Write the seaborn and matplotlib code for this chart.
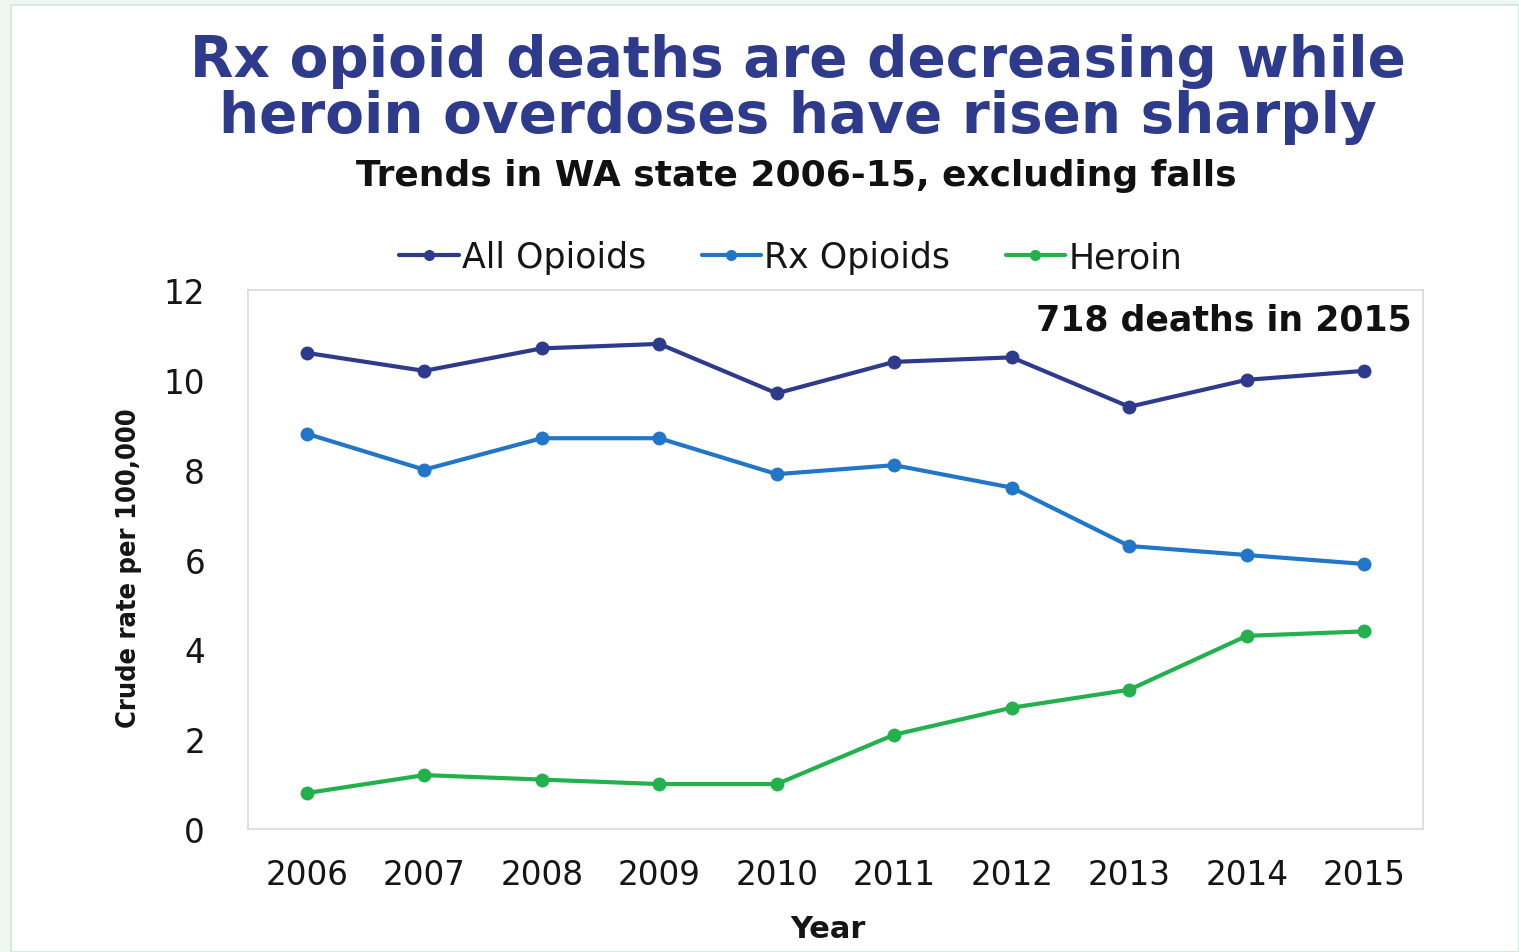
import matplotlib
matplotlib.use("Agg")
import matplotlib.pyplot as plt
import seaborn as sns
import pandas as pd
from matplotlib.patches import Rectangle

years = [2006, 2007, 2008, 2009, 2010, 2011, 2012, 2013, 2014, 2015]
all_opioids = [10.6, 10.2, 10.7, 10.8, 9.7, 10.4, 10.5, 9.4, 10.0, 10.2]
rx_opioids = [8.8, 8.0, 8.7, 8.7, 7.9, 8.1, 7.6, 6.3, 6.1, 5.9]
heroin = [0.8, 1.2, 1.1, 1.0, 1.0, 2.1, 2.7, 3.1, 4.3, 4.4]
series_names = ["All Opioids", "Rx Opioids", "Heroin"]
colors = ["#2E3A8C", "#2176C7", "#22B14C"]
y_ticks = [0, 2, 4, 6, 8, 10, 12]

df = pd.DataFrame({
    "Year": years * 3,
    "Rate": all_opioids + rx_opioids + heroin,
    "Series": [series_names[0]] * 10 + [series_names[1]] * 10 + [series_names[2]] * 10,
})

sns.set_theme(style="white")
plt.rcParams["font.family"] = ["DejaVu Sans"]

fig = plt.figure(figsize=(15.19, 9.53), dpi=100)
fig.patch.set_facecolor("#eef7f2")
fig.patches.append(Rectangle((11 / 1519, 0), 1 - 11 / 1519, 1 - 6 / 953,
                             transform=fig.transFigure, facecolor="white",
                             edgecolor="#d3ece0", linewidth=1.5, zorder=-10))

ax = fig.add_axes([248 / 1519, 1 - 830 / 953, 1175 / 1519, 539 / 953])
ax.set_facecolor("white")

sns.lineplot(data=df, x="Year", y="Rate", hue="Series", palette=colors,
             hue_order=series_names, marker="o", markersize=10,
             markeredgewidth=0, linewidth=3, ax=ax, legend=True)

ax.set_xlim(2005.5, 2015.5)
ax.set_ylim(0, 12)
ax.set_xticks(years)
ax.set_xticklabels([str(y) for y in years], fontsize=23.5, color="#151515")
ax.set_yticks(y_ticks)
ax.set_yticklabels([str(t) for t in y_ticks], fontsize=23.5, color="#151515")
ax.tick_params(axis="x", pad=21, length=0)
ax.tick_params(axis="y", pad=31, length=0)
for s in ax.spines.values():
    s.set_color("#d9d9d9")
    s.set_linewidth(1.2)

ax.set_xlabel("Year", fontsize=22, fontweight="bold", color="#151515")
ax.xaxis.set_label_coords((828 - 248) / 1175, -0.158)
ax.set_ylabel("Crude rate per 100,000", fontsize=19.5, fontweight="bold",
              family="DejaVu Sans", fontstretch="condensed", color="#151515")
ax.yaxis.set_label_coords(-(248 - 142) / 1175, (830 - 568) / 539)

ax.text(0.99, 0.945, "718 deaths in 2015", transform=ax.transAxes,
        ha="right", va="center", fontsize=25, fontweight="bold", color="#111111")

leg = ax.legend(loc="lower center", bbox_to_anchor=(0.462, 1.0), ncol=3,
                frameon=False, fontsize=25, handlelength=1.7, handletextpad=0.1,
                columnspacing=1.6, borderaxespad=0.05, markerscale=0.8)
for t in leg.get_texts():
    t.set_color("#151515")

fig.text(0.525, 0.935, "Rx opioid deaths are decreasing while",
         ha="center", va="center", fontsize=40.7, fontweight="bold", color="#2E3A8C")
fig.text(0.525, 0.877, "heroin overdoses have risen sharply",
         ha="center", va="center", fontsize=40.7, fontweight="bold", color="#2E3A8C")
fig.text(0.524, 0.815, "Trends in WA state 2006-15, excluding falls",
         ha="center", va="center", fontsize=25.9, fontweight="bold", color="#111111")

fig.savefig("out.png", dpi=100, facecolor=fig.get_facecolor())
